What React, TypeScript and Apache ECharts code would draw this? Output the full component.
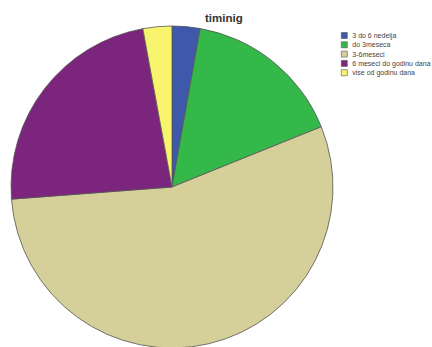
import React, { useEffect, useRef } from "react";
import * as echarts from "echarts";

const categories = ["3 do 6 nedelja", "do 3meseca", "3-6meseci", "6 meseci do godinu dana", "vise od godinu dana"];
const values = [2.8, 16.1, 54.9, 23.3, 2.9];
const colors = ["#3E58AC", "#35B84A", "#D5CF9A", "#7B257C", "#F8F46E"];

export default function App() {
  const ref = useRef<HTMLDivElement>(null);
  useEffect(() => {
    document.body.style.margin = "0";
    const chart = echarts.init(ref.current!, undefined, { renderer: "svg" });
    chart.setOption({
      animation: false,
      backgroundColor: "#ffffff",
      title: {
        text: "timinig",
        left: 205,
        top: 12,
        padding: 0,
        textStyle: { fontFamily: "Liberation Sans", fontSize: 11.5, fontWeight: "bold", color: "#333" },
      },
      legend: {
        orient: "vertical",
        left: 336,
        top: 27,
        itemWidth: 6,
        itemHeight: 6,
        itemGap: 2.3,
        icon: "rect",
        textStyle: { fontFamily: "Liberation Sans", fontSize: 7, lineHeight: 7, color: "#444" },
        itemStyle: { borderColor: "#555", borderWidth: 0.6 },
        data: categories,
      },
      series: [
        {
          type: "pie",
          center: [172, 187],
          radius: 161,
          startAngle: 90,
          clockwise: true,
          label: { show: false },
          labelLine: { show: false },
          emphasis: { disabled: true },
          itemStyle: { borderColor: "#555", borderWidth: 0.8 },
          data: categories.map((c, i) => ({ name: c, value: values[i], itemStyle: { color: colors[i] } })),
        },
      ],
    });
    return () => chart.dispose();
  }, []);
  return <div ref={ref} style={{ width: 432, height: 347, position: "absolute", left: 0, top: 0 }} />;
}
